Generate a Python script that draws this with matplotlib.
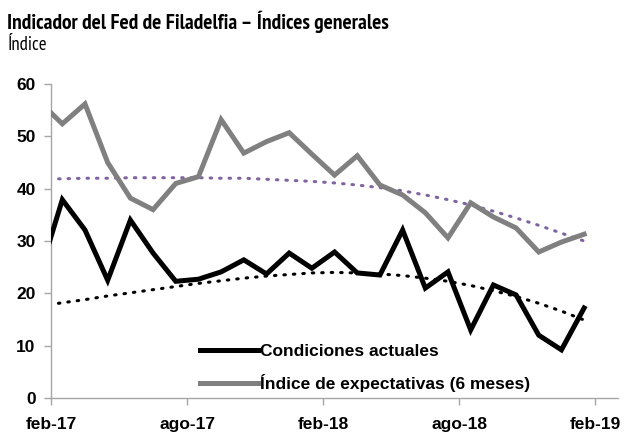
import matplotlib
matplotlib.use("Agg")
import matplotlib.pyplot as plt
import numpy as np

# Monthly data, ene-17 .. ene-19 (first point falls just left of the axis)
months = ["ene-17", "feb-17", "mar-17", "abr-17", "may-17", "jun-17", "jul-17",
          "ago-17", "sep-17", "oct-17", "nov-17", "dic-17", "ene-18", "feb-18",
          "mar-18", "abr-18", "may-18", "jun-18", "jul-18", "ago-18", "sep-18",
          "oct-18", "nov-18", "dic-18", "ene-19"]
actuales = [23.7, 37.9, 32.1, 22.5, 34.0, 27.7, 22.3, 22.7, 24.1, 26.4, 23.7, 27.7,
            24.8, 27.9, 23.9, 23.5, 32.1, 21.0, 24.1, 13.0, 21.6, 19.7, 12.0, 9.2, 17.2]
expectativas = [56.6, 52.4, 56.2, 45.0, 38.2, 36.0, 41.0, 42.3, 53.2, 46.8, 49.0, 50.7,
                46.6, 42.6, 46.3, 40.7, 38.8, 35.4, 30.6, 37.3, 34.6, 32.5, 27.9, 29.8, 31.3]
# polynomial trendlines as drawn in the chart
tend_actuales = [17.6, 18.2, 18.8, 19.5, 20.1, 20.7, 21.3, 21.9, 22.4, 22.9, 23.3, 23.6,
                 23.9, 24.0, 23.9, 23.7, 23.4, 22.9, 22.3, 21.5, 20.5, 19.4, 18.1, 16.6, 14.9]
tend_expectativas = [41.8, 41.9, 42.0, 42.0, 42.1, 42.1, 42.1, 42.1, 42.0, 42.0, 41.8, 41.6,
                     41.4, 41.1, 40.7, 40.2, 39.6, 38.8, 37.9, 36.9, 35.7, 34.4, 33.0, 31.5, 30.0]
tick_labels = ["feb-17", "ago-17", "feb-18", "ago-18", "feb-19"]
yticks = [0, 10, 20, 30, 40, 50, 60]

plt.rcParams['font.family'] = ['Liberation Sans', 'DejaVu Sans']
narrow = ['PT Sans Narrow', 'Liberation Sans', 'DejaVu Sans']

fig = plt.figure(figsize=(6.34, 4.36), dpi=100)
ax = fig.add_axes([0.0804, 0.0872, 0.8946, 0.7200])

# points sit mid-month; month 0 = feb-17 tick
x = np.arange(len(months)) - 0.5

ax.plot(x, actuales, color='black', lw=3.6, solid_joinstyle='miter',
        label='Condiciones actuales', zorder=3)
ax.plot(x, expectativas, color='#808080', lw=3.6, solid_joinstyle='miter',
        label='Índice de expectativas (6 meses)', zorder=3)

ax.plot(x, tend_actuales, color='black', lw=2.2, ls=(0, (0.5, 2.6)),
        dash_capstyle='round', zorder=2)
ax.plot(x, tend_expectativas, color='#8064A2', lw=2.2, ls=(0, (0.5, 2.6)),
        dash_capstyle='round', zorder=2)

ax.set_xlim(0, 25)
ax.set_ylim(0, 60)
ax.set_xticks([0, 6, 12, 18, 24])
ax.set_xticklabels(tick_labels)
ax.set_yticks(yticks)
for s in ['top', 'right']:
    ax.spines[s].set_visible(False)
for s in ['left', 'bottom']:
    ax.spines[s].set_color('#A6A6A6')
    ax.spines[s].set_linewidth(1.0)
ax.tick_params(axis='both', colors='#A6A6A6', length=5, width=1.0,
               labelcolor='black', labelsize=12.5)
for lab in ax.get_xticklabels() + ax.get_yticklabels():
    lab.set_fontweight('bold')
ax.tick_params(axis='x', pad=9)
ax.tick_params(axis='y', pad=6)

leg = ax.legend(loc='lower left', bbox_to_anchor=(0.235, -0.03), frameon=False,
                prop={'weight': 'bold', 'size': 12.5}, handlelength=3.35,
                handletextpad=0.1, labelspacing=0.85)

fig.text(0.011, 0.9335, 'Indicador del Fed de Filadelfia – Índices generales',
         fontsize=15.5, fontweight='bold', ha='left', va='baseline', family=narrow)
fig.text(0.011, 0.886, 'Índice', fontsize=13.5, ha='left', va='baseline', family=narrow)

fig.savefig('out.png', dpi=100)
